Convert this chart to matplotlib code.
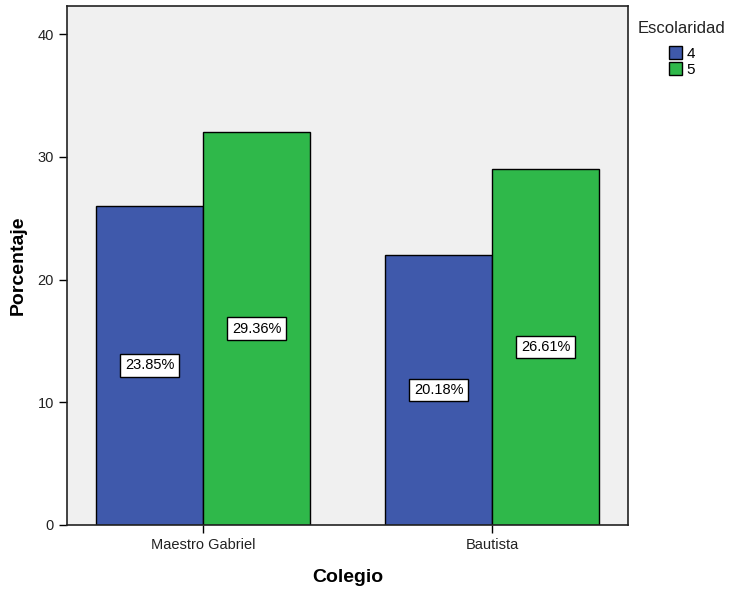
import numpy as np
import matplotlib.pyplot as plt
from matplotlib.patches import Patch

plt.rcParams['font.family'] = ['Liberation Sans', 'DejaVu Sans']

# data
colegios = ['Maestro Gabriel', 'Bautista']
grupos = ['4', '5']
alturas_4 = [26, 22]
alturas_5 = [32, 29]
etiquetas_4 = ['23.85%', '20.18%']
etiquetas_5 = ['29.36%', '26.61%']

azul = '#3F59AB'
verde = '#2FB84A'

fig = plt.figure(figsize=(7.3, 5.89), dpi=100)
ax = fig.add_axes([0.0918, 0.1087, 0.7685, 0.8811])
ax.set_facecolor('#F0F0F0')

x = np.arange(len(colegios))
w = 0.37
b4 = ax.bar(x - w / 2, alturas_4, w, color=azul, edgecolor='black', linewidth=1)
b5 = ax.bar(x + w / 2, alturas_5, w, color=verde, edgecolor='black', linewidth=1)

box = dict(boxstyle='square,pad=0.3', facecolor='white', edgecolor='black', linewidth=1)
for bars, labs in ((b4, etiquetas_4), (b5, etiquetas_5)):
    for rect, lab in zip(bars, labs):
        ax.text(rect.get_x() + rect.get_width() / 2, rect.get_height() / 2, lab,
                ha='center', va='center', fontsize=10.5, bbox=box)

ax.set_xlim(-0.4706, 1.4706)
ax.set_ylim(0, 42.3)
ax.set_yticks([0, 10, 20, 30, 40])
ax.set_xticks(x)
ax.set_xticklabels(colegios)
ax.tick_params(axis='both', direction='out', length=6, width=1, labelsize=10.5, color='black', labelcolor='#222222')
for s in ax.spines.values():
    s.set_linewidth(1.2)
    s.set_color('#222222')

ax.set_ylabel('Porcentaje', fontsize=14, fontweight='bold', labelpad=8)
ax.set_xlabel('Colegio', fontsize=14, fontweight='bold', labelpad=12)

# legend: title on its own, entries indented under it
fig.text(0.873, 0.951, 'Escolaridad', fontsize=12, ha='left', va='center', color='#222222')
handles = [Patch(facecolor=azul, edgecolor='black', linewidth=1),
           Patch(facecolor=verde, edgecolor='black', linewidth=1)]
fig.legend(handles, grupos, loc='upper left', bbox_to_anchor=(0.917, 0.922),
           frameon=False, fontsize=11, handlelength=0.85, handleheight=0.95,
           handletextpad=0.25, labelspacing=0.1, borderpad=0, borderaxespad=0)

fig.savefig('out.png', dpi=100)
